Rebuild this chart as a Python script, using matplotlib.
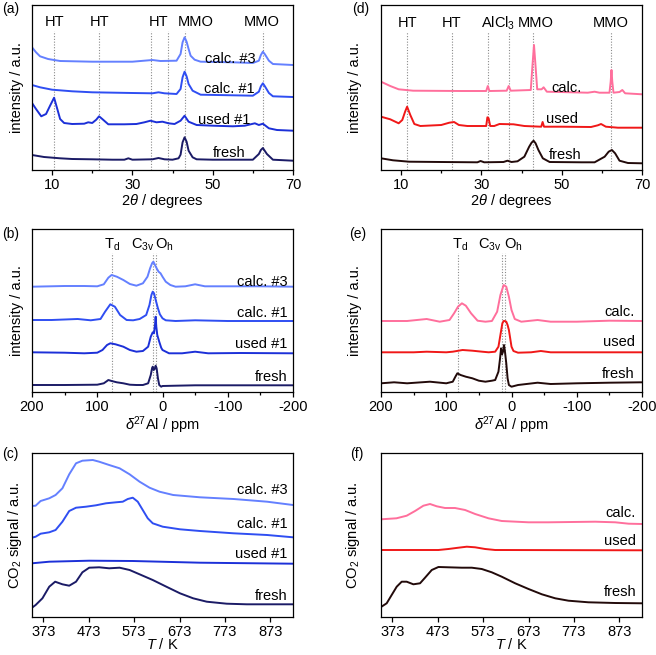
import numpy as np
import matplotlib
matplotlib.use("Agg")
import matplotlib.pyplot as plt

plt.rcParams['font.family'] = ['Liberation Sans', 'DejaVu Sans']
plt.rcParams['mathtext.fontset'] = 'custom'
plt.rcParams['mathtext.rm'] = 'Liberation Sans'
plt.rcParams['mathtext.it'] = 'Liberation Sans:italic'
plt.rcParams['axes.unicode_minus'] = False
plt.rcParams['font.size'] = 10.5

# ---------------- data ----------------
# (a) XRD, 2theta / degrees
a_fresh_x = [5, 8, 12, 15, 20, 25, 28, 29, 30, 35, 36.5, 38, 40, 41.5, 42, 42.5, 43, 43.5, 44, 45, 46,
             50, 55, 60, 61.5, 62, 62.5, 63, 63.5, 65, 70]
a_fresh_y = [15, 13, 11.7, 11, 10.7, 10.3, 10.3, 11.7, 10.3, 10.7, 12, 10.7, 10.3, 11.7, 15.3, 27.7, 32.7, 28.3,
             19.3, 12.7, 10.7, 10.3, 10.3, 10.3, 16, 20, 22, 19, 16, 10.3, 9.3]
a_used_x = [5, 6, 7.3, 8.5, 9.5, 10.5, 11.3, 12, 13, 15, 18, 19, 20, 21, 21.7, 22.5, 24, 28, 31, 33, 34.5,
            36, 37.5, 39, 40.5, 42, 43, 44, 46, 50, 55, 58, 60.5, 61.5, 62.5, 64, 66, 70]
a_used_y = [67, 61, 53.7, 56, 64.3, 72.3, 61, 51, 47, 46, 46.3, 47.7, 47, 50.3, 53.7, 51, 45.7, 45.7, 46,
            47.7, 49.3, 47.7, 48.3, 46.7, 46, 49.3, 54.3, 48.3, 45, 44.3, 43.7, 44.3, 46.7, 45, 46.3, 41.7, 40, 39.3]
a_calc1_x = [5, 7, 10, 15, 20, 30, 35, 36.5, 38, 41, 42, 42.5, 43, 43.5, 44, 45, 47, 55, 60, 61.5, 62,
             62.5, 63, 64, 65, 70]
a_calc1_y = [85, 82.7, 80.3, 78.7, 77.7, 77, 76.7, 77.7, 76.7, 76, 81, 92.7, 98.3, 93.7, 86, 79.3, 75.3,
             74.7, 74.3, 78.3, 83.7, 86.7, 83.7, 77, 73.7, 73]
a_calc3_x = [5, 6, 7, 9, 12, 20, 30, 35, 37, 41, 42, 42.5, 43, 43.5, 44, 44.5, 45.5, 47, 55, 60, 61.5,
             62, 62.5, 63, 64, 65, 70]
a_calc3_y = [122.7, 117.7, 113.7, 111, 109, 108.3, 108.3, 110, 109, 109.3, 116, 127.7, 132.7, 128.3, 121,
             114.3, 110.3, 108.3, 107.7, 107, 109.3, 115, 118.3, 115.7, 109.3, 106, 105]
a_refs = [10.5, 21.75, 34.6, 38.75, 43, 62.5]
a_ref_labels = ["HT", "HT", "HT", "MMO", "MMO"]
a_ref_label_x = [10.5, 21.75, 36.6, 45.8, 62.3]

# (d) XRD
d_fresh_x = [5, 8, 12, 20, 29, 29.8, 30.7, 35.5, 36.5, 37.5, 39, 40.7, 41.9, 42.5, 43, 43.5, 44.2, 45.3,
             47, 55, 58.2, 60.7, 61.7, 62.5, 63.3, 64.4, 66.5, 70]
d_fresh_y = [11.7, 9.7, 8.3, 8, 7.7, 9, 7.7, 8, 9.3, 8, 8.7, 13.3, 23.3, 27.3, 29.3, 26.7, 20, 11.7, 8,
             7.7, 7.7, 13.3, 18.3, 20, 16.7, 9.3, 7, 6.7]
d_used_x = [5, 7.3, 9.4, 10.3, 11, 11.5, 12.3, 13.3, 14.8, 20, 22, 23.2, 24.4, 26.5, 31.2, 31.5, 31.8,
            32.2, 33.2, 34.5, 38, 40.7, 44.9, 45.25, 45.6, 50, 57.3, 59, 59.8, 61, 64, 70]
d_used_y = [53.3, 50.7, 46.7, 50, 58.3, 63.3, 55, 46, 44, 45, 47.3, 48, 45, 44, 44, 52.7, 51.7, 44, 44,
            46, 45.7, 44, 43.3, 48, 43.3, 43.3, 43, 44.7, 46, 43.3, 42.3, 42.3]
d_calc_x = [5, 7.3, 9.4, 13, 25, 31.2, 31.6, 32, 36.3, 36.8, 37.3, 42.3, 42.7, 43.1, 43.5, 43.9, 45,
            45.5, 46.3, 56.5, 58.2, 59.4, 61.9, 62.2, 62.4, 62.6, 62.9, 64.4, 65.1, 65.8, 70]
d_calc_y = [88.3, 84, 80.7, 79.3, 79, 79, 84, 79, 79.3, 84, 79.3, 80, 103.3, 125, 103.3, 80.7, 80.7,
            82.7, 78.3, 77.3, 78.3, 77.3, 77.3, 88.3, 100, 88.3, 77.3, 78, 80, 76.7, 75.7]
d_refs = [11.5, 22.6, 31.6, 36.8, 42.9, 62.3]
d_ref_labels = ["HT", "HT", "AlCl$_3$", "MMO", "MMO"]
d_ref_label_x = [11.5, 22.6, 34.2, 43.4, 62.3]

# (b) 27Al NMR, ppm
b_fresh_x = [200, 150, 100, 90, 85, 83, 78, 70, 60, 50, 40, 30, 22, 18, 16, 15, 13.5, 12, 10.5, 9, 7, 5,
             2, 0, -20, -50, -100, -150, -200]
b_fresh_y = [7, 7, 7.3, 8.7, 11, 12, 11, 9.7, 8.7, 7.3, 7, 7, 8.7, 17, 23.7, 25.3, 22, 23, 26.3, 23.7,
             13.7, 7, 5.3, 6, 6.3, 6.7, 6.7, 6.7, 6.7]
b_used_x = [200, 150, 120, 100, 92, 85, 80, 72, 60, 50, 40, 30, 22, 18, 15, 13, 11.5, 10.5, 9.5, 8, 5, 2,
            0, -10, -30, -50, -70, -120, -200]
b_used_y = [39.7, 39.3, 38.7, 39.3, 42, 47, 48.7, 47.7, 45.3, 42, 40.3, 41, 45.3, 55.3, 59.7, 58.7, 67,
            75.3, 65.3, 57, 50.3, 44.3, 42, 38.7, 38.7, 40.3, 38.7, 39, 38.7]
b_calc1_x = [200, 170, 130, 110, 95, 88, 80, 73, 65, 55, 45, 35, 25, 20, 17, 15, 13, 10, 7, 4, 0, -5,
             -20, -50, -100, -150, -200]
b_calc1_y = [72, 72, 73, 71.7, 73, 80.3, 87.7, 85.3, 77, 72, 71.7, 73, 77, 87, 97, 100.3, 98.7, 91,
             83.7, 77.7, 73.7, 71.7, 71, 71.7, 71, 71, 71]
b_calc3_x = [200, 150, 120, 100, 90, 83, 78, 70, 60, 50, 40, 30, 23, 19, 16, 14, 12, 9, 6, 3, 0, -5,
             -12, -20, -35, -50, -65, -100, -150, -200]
b_calc3_y = [105.3, 106, 106, 105.7, 107.7, 114.3, 117, 115.3, 112, 108, 106.3, 108.7, 115.3, 123.7,
             128.7, 130.3, 127.7, 123.7, 120.3, 118.7, 115.3, 110.3, 107, 105.3, 105.7, 107.7, 105.7,
             105.7, 105.7, 105.3]
b_refs = [78, 15, 10]

# (e) 27Al NMR
e_fresh_x = [200, 180, 160, 125, 100, 90, 86, 83, 78, 70, 60, 50, 40, 30, 25, 20, 17.5, 16, 14.5, 13,
             11.5, 10, 8, 6, 4, 0, -10, -40, -60, -100, -150, -200]
e_fresh_y = [8.7, 9.7, 8.7, 10.3, 8.7, 10.3, 15.3, 18.7, 17, 15.3, 13.7, 11.3, 10.3, 11.3, 12, 20.3,
             33.7, 43.7, 37.7, 40.3, 47, 40.3, 28.7, 13.7, 7, 5.3, 7, 9.3, 8, 8.7, 9.3, 9.7]
e_used_x = [200, 150, 130, 100, 90, 75, 60, 45, 35, 25, 20, 17, 14, 12, 10, 8, 6, 4, 2, 0, -3, -10,
            -30, -45, -60, -100, -150, -200]
e_used_y = [39.7, 39.7, 40.3, 39.7, 40.3, 42, 41.3, 40.3, 39.7, 40.3, 45.3, 57, 68.7, 71, 71, 70.3,
            67, 62, 53.7, 45.3, 41, 39.3, 39.7, 41, 39.7, 39.7, 39.7, 39.7]
e_calc_x = [200, 160, 130, 110, 95, 88, 82, 76, 70, 62, 52, 40, 30, 22, 17, 12, 8, 4, 0, -5, -15, -40,
            -60, -100, -150, -200]
e_calc_y = [71, 71, 73, 70.3, 72, 78.7, 85.3, 88.7, 86.3, 78.7, 71.3, 70.3, 71, 80.3, 97, 107, 105.3,
            95.3, 82, 73, 70.3, 72, 70.3, 70.3, 71.3, 71]
e_refs = [82, 15, 10.5]

# (c) CO2-TPD, T / K
c_fresh_x = [348, 356, 371, 386, 399, 415, 430, 445, 459, 474, 496, 518, 541, 563, 585, 614, 644, 674,
             703, 733, 777, 821, 866, 923]
c_fresh_y = [9.3, 12, 18.7, 30.3, 35.3, 32.7, 31.3, 35.3, 44.7, 49.3, 49.7, 48.7, 49.3, 47, 42.7, 37,
             30.3, 23.7, 18.7, 15.3, 13.3, 12.7, 12.7, 12.7]
c_used_x = [348, 386, 474, 570, 718, 923]
c_used_y = [53.7, 55.3, 56.3, 56, 54.3, 53.3]
c_calc1_x = [348, 356, 367, 386, 400, 415, 430, 445, 467, 489, 511, 533, 548, 559, 570, 581, 592, 603,
             614, 636, 674, 718, 792, 866, 923]
c_calc1_y = [79.3, 80.3, 83.3, 84.7, 87, 95.3, 106, 109.3, 110.3, 111.7, 113.7, 114.7, 115.3, 118,
             119.3, 115.3, 107, 98.7, 93.7, 90.3, 87.7, 86, 83.7, 82, 79.7]
c_calc3_x = [348, 356, 367, 386, 400, 415, 430, 445, 459, 482, 496, 518, 541, 563, 585, 607, 629, 659,
             718, 792, 866, 923]
c_calc3_y = [111, 111.3, 116, 118.7, 122, 128.7, 142.7, 153.7, 156.3, 157, 155.3, 152, 148.7, 142.7,
             135.3, 129.3, 125.3, 122, 119.7, 118, 115.3, 112]

# (f) CO2-TPD
f_fresh_x = [348, 360.5, 371.5, 382.6, 393.6, 404.6, 419.3, 434, 445, 459.8, 474.5, 496.5, 526, 548,
             570, 592, 614, 643.6, 673, 702.4, 731.8, 761, 805, 864, 923]
f_fresh_y = [10, 13.7, 22, 30.3, 35.3, 35.3, 32.7, 33.7, 39.3, 47, 50, 49.7, 49.3, 49.3, 48, 44.7, 40.3,
             33.7, 28, 22.7, 18.7, 16.3, 14.7, 14, 13.7]
f_used_x = [348, 474.5, 496.5, 518.6, 537, 555.4, 577.4, 599.5, 923]
f_used_y = [67, 67, 68, 69.3, 70.3, 69.7, 68, 67, 66.7]
f_calc_x = [348, 382, 404.6, 423, 441.4, 456, 470.8, 489, 511, 533.3, 555.4, 584.8, 614, 673, 717, 820,
            864, 893.6, 923]
f_calc_y = [97.7, 98.7, 101.3, 106, 111.3, 113, 110.7, 109, 109, 107, 103, 98.7, 96, 94.7, 94.7, 95.3,
            94.7, 93.3, 93]

tpd_ticks = [373, 473, 573, 673, 773, 873]

# colours
c_fresh_l = '#1b1b66'
c_used_l = '#1c30d8'
c_calc1_l = '#2f4ef2'
c_calc3_l = '#6480ff'
c_fresh_r = '#220a0a'
c_used_r = '#f01818'
c_calc_r = '#ff6f9c'

lw = 1.4
W, H = 656, 655
fig = plt.figure(figsize=(W / 100, H / 100), dpi=100)


def make_ax(left, top, right, bottom):
    return fig.add_axes([left / W, 1 - bottom / H, (right - left) / W, (bottom - top) / H])


def style(ax):
    ax.set_yticks([])
    ax.tick_params(axis='x', direction='out', length=3.5, width=0.9, pad=2.5, labelsize=10.5)
    ax.tick_params(axis='x', which='minor', direction='out', length=2.5, width=0.9)
    for s in ax.spines.values():
        s.set_linewidth(0.9)


def refs(ax, xs, top):
    for x in xs:
        ax.plot([x, x], [0, top], ls=(0, (1, 1.5)), color='#8a8a8a', lw=0.8, zorder=1)


ax_a = make_ax(32, 5, 293, 170)
ax_d = make_ax(381, 5, 642, 170)
ax_b = make_ax(32, 229, 293, 392)
ax_e = make_ax(381, 229, 642, 392)
ax_c = make_ax(32, 453, 293, 617)
ax_f = make_ax(381, 453, 642, 617)

# ---- (a)
ax = ax_a
refs(ax, a_refs, 139)
ax.plot(a_fresh_x, a_fresh_y, color=c_fresh_l, lw=lw)
ax.plot(a_used_x, a_used_y, color=c_used_l, lw=lw)
ax.plot(a_calc1_x, a_calc1_y, color=c_calc1_l, lw=lw)
ax.plot(a_calc3_x, a_calc3_y, color=c_calc3_l, lw=lw)
for lab, x in zip(a_ref_labels, a_ref_label_x):
    ax.text(x, 148, lab, ha='center', va='center')
ax.text(60.8, 111, "calc. #3", ha='right', va='center')
ax.text(60.5, 81, "calc. #1", ha='right', va='center')
ax.text(59.5, 49.5, "used #1", ha='right', va='center')
ax.text(58.2, 17, "fresh", ha='right', va='center')
ax.set_xlim(5, 70)
ax.set_ylim(0, 165)
ax.set_xticks([10, 30, 50, 70])
ax.set_xticks([20, 40, 60], minor=True)
ax.set_xlabel(r"2$\mathit{\theta}$ / degrees", labelpad=0)
ax.set_ylabel("intensity / a.u.", labelpad=6)
style(ax)

# ---- (d)
ax = ax_d
refs(ax, d_refs, 138)
ax.plot(d_fresh_x, d_fresh_y, color=c_fresh_r, lw=lw)
ax.plot(d_used_x, d_used_y, color=c_used_r, lw=lw)
ax.plot(d_calc_x, d_calc_y, color=c_calc_r, lw=lw)
for lab, x in zip(d_ref_labels, d_ref_label_x):
    ax.text(x, 147, lab, ha='center', va='center')
ax.text(55, 82, "calc.", ha='right', va='center')
ax.text(54, 51, "used", ha='right', va='center')
ax.text(55, 15, "fresh", ha='right', va='center')
ax.set_xlim(5, 70)
ax.set_ylim(0, 165)
ax.set_xticks([10, 30, 50, 70])
ax.set_xticks([20, 40, 60], minor=True)
ax.set_xlabel(r"2$\mathit{\theta}$ / degrees", labelpad=0)
ax.set_ylabel("intensity / a.u.", labelpad=14)
style(ax)

# ---- (b)
ax = ax_b
refs(ax, b_refs, 139)
ax.plot(b_fresh_x, b_fresh_y, color=c_fresh_l, lw=lw)
ax.plot(b_used_x, b_used_y, color=c_used_l, lw=lw)
ax.plot(b_calc1_x, b_calc1_y, color=c_calc1_l, lw=lw)
ax.plot(b_calc3_x, b_calc3_y, color=c_calc3_l, lw=lw)
ax.text(77, 147, r"T$_\mathrm{d}$", ha='center', va='center')
ax.text(31, 147, r"C$_\mathrm{3v}$", ha='center', va='center')
ax.text(-3, 147, r"O$_\mathrm{h}$", ha='center', va='center')
ax.text(-191, 110.5, "calc. #3", ha='right', va='center')
ax.text(-191, 79, "calc. #1", ha='right', va='center')
ax.text(-191, 48, "used #1", ha='right', va='center')
ax.text(-191, 15, "fresh", ha='right', va='center')
ax.set_xlim(200, -200)
ax.set_ylim(0, 163)
ax.set_xticks([200, 100, 0, -100, -200])
ax.set_xticks([150, 50, -50, -150], minor=True)
ax.set_xlabel(r"$\mathit{\delta}$$^{27}$Al / ppm", labelpad=0)
ax.set_ylabel("intensity / a.u.", labelpad=6)
style(ax)

# ---- (e)
ax = ax_e
refs(ax, e_refs, 139)
ax.plot(e_fresh_x, e_fresh_y, color=c_fresh_r, lw=lw)
ax.plot(e_used_x, e_used_y, color=c_used_r, lw=lw)
ax.plot(e_calc_x, e_calc_y, color=c_calc_r, lw=lw)
ax.text(79, 147, r"T$_\mathrm{d}$", ha='center', va='center')
ax.text(33, 147, r"C$_\mathrm{3v}$", ha='center', va='center')
ax.text(-3, 147, r"O$_\mathrm{h}$", ha='center', va='center')
ax.text(-189, 80.5, "calc.", ha='right', va='center')
ax.text(-189, 50.5, "used", ha='right', va='center')
ax.text(-189, 18, "fresh", ha='right', va='center')
ax.set_xlim(200, -200)
ax.set_ylim(0, 163)
ax.set_xticks([200, 100, 0, -100, -200])
ax.set_xticks([150, 50, -50, -150], minor=True)
ax.set_xlabel(r"$\mathit{\delta}$$^{27}$Al / ppm", labelpad=0)
ax.set_ylabel("intensity / a.u.", labelpad=14)
style(ax)

# ---- (c)
ax = ax_c
ax.plot(c_fresh_x, c_fresh_y, color=c_fresh_l, lw=lw)
ax.plot(c_used_x, c_used_y, color=c_used_l, lw=lw)
ax.plot(c_calc1_x, c_calc1_y, color=c_calc1_l, lw=lw)
ax.plot(c_calc3_x, c_calc3_y, color=c_calc3_l, lw=lw)
ax.text(911, 127, "calc. #3", ha='right', va='center')
ax.text(911, 93, "calc. #1", ha='right', va='center')
ax.text(911, 63, "used #1", ha='right', va='center')
ax.text(911, 21.5, "fresh", ha='right', va='center')
ax.set_xlim(348, 923)
ax.set_ylim(0, 164)
ax.set_xticks(tpd_ticks)
ax.set_xlabel(r"$\mathit{T}$ / K", labelpad=-1.5)
ax.set_ylabel(r"CO$_2$ signal / a.u.", labelpad=6)
style(ax)

# ---- (f)
ax = ax_f
ax.plot(f_fresh_x, f_fresh_y, color=c_fresh_r, lw=lw)
ax.plot(f_used_x, f_used_y, color=c_used_r, lw=lw)
ax.plot(f_calc_x, f_calc_y, color=c_calc_r, lw=lw)
ax.text(910, 104, "calc.", ha='right', va='center')
ax.text(910, 76, "used", ha='right', va='center')
ax.text(910, 25, "fresh", ha='right', va='center')
ax.set_xlim(348, 923)
ax.set_ylim(0, 164)
ax.set_xticks(tpd_ticks)
ax.set_xlabel(r"$\mathit{T}$ / K", labelpad=-1.5)
ax.set_ylabel(r"CO$_2$ signal / a.u.", labelpad=14)
style(ax)

# panel letters
for lab, x, y in [("(a)", 2, 2), ("(d)", 352, 2), ("(b)", 2, 227), ("(e)", 349, 227),
                  ("(c)", 2, 447), ("(f)", 350, 447)]:
    fig.text(x / W, 1 - y / H, lab, ha='left', va='top', fontsize=10)

fig.savefig("out.png", dpi=100)
